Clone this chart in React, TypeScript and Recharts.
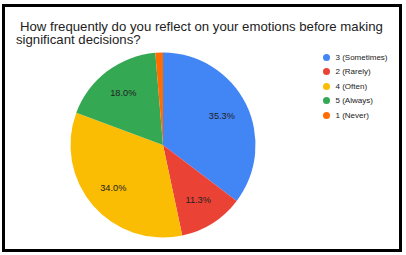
import React from "react";
import { PieChart, Pie, Cell, Legend } from "recharts";

const titleLines = [
  "How frequently do you reflect on your emotions before making",
  "significant decisions?",
];
const categories = ["3 (Sometimes)", "2 (Rarely)", "4 (Often)", "5 (Always)", "1 (Never)"];
const counts = [53, 17, 51, 27, 2];
const colors = ["#4285F4", "#EA4335", "#FBBC04", "#34A853", "#FF6D01"];

const data = categories.map((name, i) => ({ name, value: counts[i] }));

const FONT = 'Arial, "Liberation Sans", sans-serif';
const RAD = Math.PI / 180;

const renderLabel = (props: any) => {
  const { cx, cy, midAngle, outerRadius, percent } = props;
  if (percent < 0.05) return null;
  const r = outerRadius * 0.71;
  const x = cx + r * Math.cos(-midAngle * RAD);
  const y = cy + r * Math.sin(-midAngle * RAD);
  return (
    <text
      x={x}
      y={y}
      textAnchor="middle"
      dominantBaseline="central"
      fontSize={9.2}
      fontFamily={FONT}
      fill="#222"
    >
      {(percent * 100).toFixed(1) + "%"}
    </text>
  );
};

const renderLegend = (props: any) => {
  const { payload } = props;
  return (
    <div style={{ fontFamily: FONT }}>
      {(payload || []).map((entry: any, i: number) => (
        <div
          key={i}
          style={{ height: 14.5, display: "flex", alignItems: "center" }}
        >
          <span
            style={{
              width: 7,
              height: 7,
              borderRadius: "50%",
              background: entry.color,
              display: "inline-block",
              marginRight: 6,
            }}
          />
          <span style={{ fontSize: 8, color: "#222", whiteSpace: "nowrap" }}>
            {entry.value}
          </span>
        </div>
      ))}
    </div>
  );
};

const titleStyle: React.CSSProperties = {
  position: "absolute",
  fontSize: 13.2,
  lineHeight: "11px",
  fontFamily: FONT,
  color: "#222",
  whiteSpace: "nowrap",
};

export default function App() {
  return (
    <div style={{ position: "absolute", left: 0, top: 0, width: 406, height: 255, background: "#fff" }}>
      <div
        style={{
          position: "absolute",
          left: 2,
          top: 4,
          width: 400,
          height: 248,
          boxSizing: "border-box",
          border: "3px solid #000",
        }}
      />
      <div style={{ ...titleStyle, left: 20, top: 20.5 }}>{titleLines[0]}</div>
      <div style={{ ...titleStyle, left: 16, top: 34 }}>{titleLines[1]}</div>
      <div style={{ position: "absolute", left: 0, top: 0 }}>
        <PieChart width={406} height={255} margin={{ top: 0, right: 0, bottom: 0, left: 0 }}>
          <Pie
            data={data}
            dataKey="value"
            nameKey="name"
            cx={163}
            cy={145}
            outerRadius={92.5}
            startAngle={90}
            endAngle={-270}
            stroke="none"
            label={renderLabel}
            labelLine={false}
            isAnimationActive={false}
          >
            {data.map((d, i) => (
              <Cell key={d.name} fill={colors[i]} />
            ))}
          </Pie>
          <Legend
            layout="vertical"
            verticalAlign="top"
            align="right"
            itemSorter={null}
            content={renderLegend}
            wrapperStyle={{ left: 322.5, top: 49.75, width: 80, right: "auto" }}
          />
        </PieChart>
      </div>
    </div>
  );
}
